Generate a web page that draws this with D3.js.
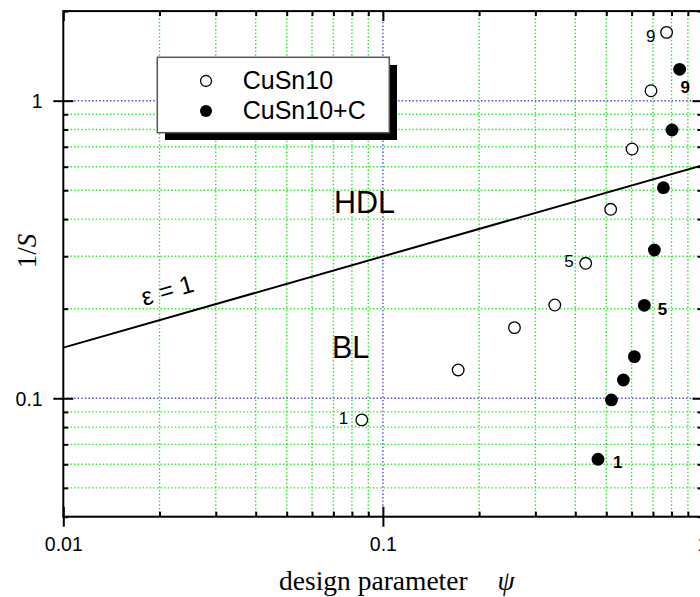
<!DOCTYPE html>
<html>
<head>
<meta charset="utf-8">
<script src="https://cdn.jsdelivr.net/npm/d3@7"></script>
<style>
  html, body { margin: 0; padding: 0; background: #fff; }
  svg { display: block; }
</style>
</head>
<body>
<script>
// Bearing data: inverse Sommerfeld number 1/S versus design parameter psi
const cuSn10Psi   = [0.0859, 0.172, 0.258, 0.345, 0.431, 0.516, 0.602, 0.690, 0.772];
const cuSn10InvS  = [0.0846, 0.1245, 0.1727, 0.2058, 0.2842, 0.4315, 0.688, 1.080, 1.697];
const cuSn10CPsi  = [0.471, 0.519, 0.5655, 0.612, 0.6577, 0.707, 0.7545, 0.803, 0.848];
const cuSn10CInvS = [0.0624, 0.0987, 0.1152, 0.138, 0.2053, 0.315, 0.510, 0.797, 1.275];

// Boundary between boundary lubrication (BL) and hydrodynamic lubrication (HDL)
const boundaryPsi  = [0.01, 1];
const boundaryInvS = [0.148, 0.607];

// Point numbers shown next to the measurements (index into the series)
const labelledPoints = [0, 4, 8];
const pointNames = ["1", "5", "9"];

// Axis ticks
const xMajor = [0.01, 0.1, 1];
const xTickLabels = ["0.01", "0.1", "1"];
const xMinor = [0.02, 0.03, 0.04, 0.05, 0.06, 0.07, 0.08, 0.09,
                0.2, 0.3, 0.4, 0.5, 0.6, 0.7, 0.8, 0.9];
const yMajor = [0.1, 1];
const yTickLabels = ["0.1", "1"];
const yMinor = [0.04, 0.05, 0.06, 0.07, 0.08, 0.09,
                0.2, 0.3, 0.4, 0.5, 0.6, 0.7, 0.8, 0.9, 2];

const seriesNames = ["CuSn10", "CuSn10+C"];

(function () {
const W = 700, H = 597;
const pl = 63.3, pr = 702.5, pt = 11.1, pb = 516.7;
const sans = "'Liberation Sans', Arial, sans-serif";
const serif = "'Liberation Serif', 'Times New Roman', serif";

const x = d3.scaleLog().domain([0.01, 1]).range([pl, pr]);
const y = d3.scaleLog().domain([0.04, 2]).range([pb, pt]);

const svg = d3.select("body").append("svg")
  .attr("width", W).attr("height", H)
  .attr("viewBox", `0 0 ${W} ${H}`);

svg.append("rect").attr("width", W).attr("height", H).attr("fill", "#fff");

svg.append("clipPath").attr("id", "plot")
  .append("rect").attr("x", pl).attr("y", pt)
  .attr("width", pr - pl).attr("height", pb - pt);

// Grid lines: dotted green at minor ticks, dotted blue at decades
const grid = svg.append("g");
const minorStroke = "#22e622", majorStroke = "#4848c0", dash = "1.4,2.2";
grid.selectAll(".gx").data(xMinor.concat([0.1])).join("line")
  .attr("x1", d => x(d)).attr("x2", d => x(d))
  .attr("y1", pt).attr("y2", pb)
  .attr("stroke", d => d === 0.1 ? majorStroke : minorStroke)
  .attr("stroke-width", 1.4)
  .attr("stroke-dasharray", dash);
grid.selectAll(".gy").data(yMinor.filter(d => d < 2).concat(yMajor)).join("line")
  .attr("y1", d => y(d)).attr("y2", d => y(d))
  .attr("x1", pl).attr("x2", pr)
  .attr("stroke", d => (d === 0.1 || d === 1) ? majorStroke : minorStroke)
  .attr("stroke-width", 1.4)
  .attr("stroke-dasharray", dash);

// Axes: labelled major ticks outward, plus inward major and minor ticks on every side
function style(g) {
  g.select(".domain").remove();
  g.selectAll("line").attr("stroke", "#000").attr("stroke-width", 2);
  g.selectAll("text").attr("font-family", sans).attr("font-size", 19.5).attr("fill", "#000");
}
svg.append("g").attr("transform", `translate(0,${pb})`)
  .call(d3.axisBottom(x).tickValues(xMajor).tickFormat((d, i) => xTickLabels[i])
    .tickSize(10).tickPadding(10.6)).call(style);
svg.append("g").attr("transform", `translate(${pl},0)`)
  .call(d3.axisLeft(y).tickValues(yMajor).tickFormat((d, i) => yTickLabels[i])
    .tickSize(10).tickPadding(10.6)).call(style)
  .selectAll("text").attr("dy", "0.36em");

const inward = [
  [d3.axisBottom, x, pb, "y", xMajor, xMinor],
  [d3.axisTop, x, pt, "y", xMajor, xMinor],
  [d3.axisLeft, y, pl, "x", yMajor, yMinor],
  [d3.axisRight, y, pr, "x", yMajor, yMinor]
];
inward.forEach(([make, sc, pos, dir, maj, min]) => {
  const tr = dir === "y" ? `translate(0,${pos})` : `translate(${pos},0)`;
  svg.append("g").attr("transform", tr)
    .call(make(sc).tickValues(maj).tickFormat("").tickSize(-10)).call(style);
  svg.append("g").attr("transform", tr)
    .call(make(sc).tickValues(min).tickFormat("").tickSize(-5)).call(style);
});

// Frame
svg.append("rect").attr("x", pl).attr("y", pt)
  .attr("width", pr - pl).attr("height", pb - pt)
  .attr("fill", "none").attr("stroke", "#000").attr("stroke-width", 2);

const plot = svg.append("g").attr("clip-path", "url(#plot)");

// Regime boundary eps = 1
plot.append("path")
  .datum(boundaryPsi.map((p, i) => [p, boundaryInvS[i]]))
  .attr("d", d3.line().x(d => x(d[0])).y(d => y(d[1])))
  .attr("fill", "none").attr("stroke", "#000").attr("stroke-width", 2);

const angle = Math.atan2(y(boundaryInvS[1]) - y(boundaryInvS[0]),
                         x(boundaryPsi[1]) - x(boundaryPsi[0])) * 180 / Math.PI;
svg.append("text")
  .attr("transform", `translate(144,306) rotate(${angle})`)
  .attr("font-family", sans).attr("font-size", 25).text("ε = 1");

svg.append("text").attr("x", 334).attr("y", 213)
  .attr("font-family", sans).attr("font-size", 30.5).text("HDL");
svg.append("text").attr("x", 332).attr("y", 358)
  .attr("font-family", sans).attr("font-size", 30.5).text("BL");

// Measurements
const open = cuSn10Psi.map((p, i) => [p, cuSn10InvS[i]]);
const filled = cuSn10CPsi.map((p, i) => [p, cuSn10CInvS[i]]);

svg.append("g").selectAll("circle").data(open).join("circle")
  .attr("cx", d => x(d[0])).attr("cy", d => y(d[1])).attr("r", 5.8)
  .attr("fill", "#fff").attr("stroke", "#000").attr("stroke-width", 1.3);
svg.append("g").selectAll("circle").data(filled).join("circle")
  .attr("cx", d => x(d[0])).attr("cy", d => y(d[1])).attr("r", 6.4)
  .attr("fill", "#000");

const openOffsets = [[-13.5, 4.5], [-12, 4], [-11, 10]];
labelledPoints.forEach((k, j) => {
  svg.append("text")
    .attr("x", x(open[k][0]) + openOffsets[j][0])
    .attr("y", y(open[k][1]) + openOffsets[j][1])
    .attr("text-anchor", "end")
    .attr("font-family", sans).attr("font-size", 17).text(pointNames[j]);
});
const filledOffsets = [[15, 9], [13.5, 10], [1, 24]];
labelledPoints.forEach((k, j) => {
  svg.append("text")
    .attr("x", x(filled[k][0]) + filledOffsets[j][0])
    .attr("y", y(filled[k][1]) + filledOffsets[j][1])
    .attr("font-family", sans).attr("font-weight", "bold")
    .attr("font-size", 17).text(pointNames[j]);
});

// Legend with drop shadow
const lg = svg.append("g");
lg.append("rect").attr("x", 165).attr("y", 65).attr("width", 232).attr("height", 75)
  .attr("fill", "#000");
lg.append("rect").attr("x", 157.3).attr("y", 57.3).attr("width", 232).attr("height", 75.4)
  .attr("fill", "#fff").attr("stroke", "#555").attr("stroke-width", 1.5);
lg.append("circle").attr("cx", 206).attr("cy", 81).attr("r", 5.5)
  .attr("fill", "#fff").attr("stroke", "#000").attr("stroke-width", 1.3);
lg.append("circle").attr("cx", 206).attr("cy", 111).attr("r", 6)
  .attr("fill", "#000");
lg.append("text").attr("x", 242.7).attr("y", 89)
  .attr("font-family", sans).attr("font-size", 25).text(seriesNames[0]);
lg.append("text").attr("x", 242.7).attr("y", 119)
  .attr("font-family", sans).attr("font-size", 25).text(seriesNames[1]);

// Axis titles
const xt = svg.append("text").attr("x", 279).attr("y", 590)
  .attr("font-family", serif).attr("font-size", 27.5);
xt.append("tspan").text("design parameter");
xt.append("tspan").attr("dx", 30).attr("font-style", "italic").text("ψ");

const yt = svg.append("text")
  .attr("transform", "translate(36,251) rotate(-90)")
  .attr("text-anchor", "middle")
  .attr("font-family", serif).attr("font-size", 27);
yt.append("tspan").text("1/");
yt.append("tspan").attr("font-style", "italic").text("S");
})();
</script>
</body>
</html>
